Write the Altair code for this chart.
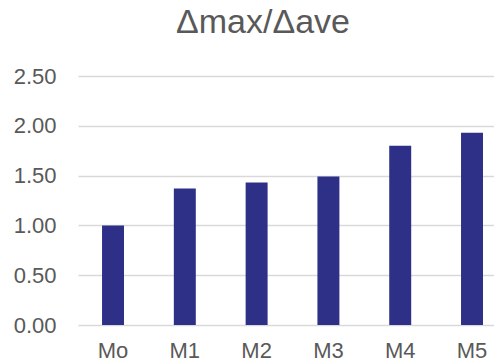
import altair as alt
import pandas as pd

categories = ["Mo", "M1", "M2", "M3", "M4", "M5"]
values = [1.00, 1.37, 1.43, 1.49, 1.80, 1.93]
y_ticks = [0.0, 0.5, 1.0, 1.5, 2.0, 2.5]

df = pd.DataFrame({"model": categories, "ratio": values})

FONT = "Liberation Sans"
TEXT = "#595959"

chart = alt.Chart(df).mark_bar(color="#2e3088").encode(
    x=alt.X("model:N", sort=categories,
            scale=alt.Scale(paddingInner=0.694, paddingOuter=0.244, align=0.686),
            axis=alt.Axis(title=None, labelAngle=0, labelFontSize=22, labelColor=TEXT,
                          labelFont=FONT, ticks=False, domain=False, labelPadding=15)),
    y=alt.Y("ratio:Q", scale=alt.Scale(domain=[0, 2.5], nice=False),
            axis=alt.Axis(title=None, values=y_ticks, format=".2f", labelFontSize=22,
                          labelColor=TEXT, labelFont=FONT, ticks=False, domain=False,
                          labelPadding=22, gridColor="#d9d9d9", gridWidth=1.5)),
).properties(
    width=416,
    height=249,
    title=alt.TitleParams("Δmax/Δave", font=FONT, fontSize=34, color=TEXT,
                          fontWeight="normal", anchor="middle", dx=-23, offset=25),
    autosize=alt.AutoSizeParams(type="none"),
    padding={"left": 70, "top": 68, "right": 0, "bottom": 38},
).configure_view(stroke=None)

chart.save("out.html", embed_options={"renderer": "svg", "actions": False})
